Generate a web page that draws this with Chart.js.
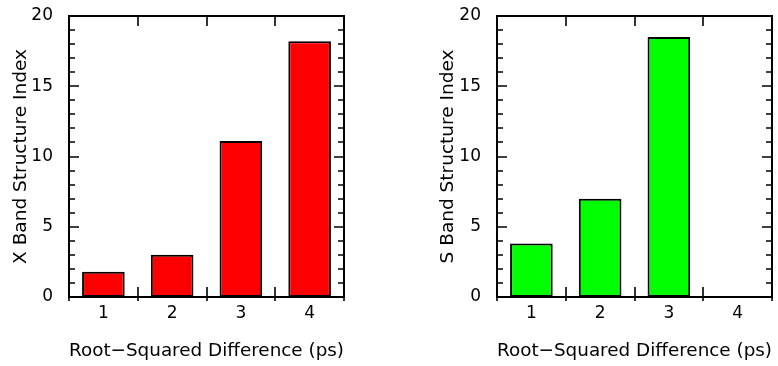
<!DOCTYPE html>
<html>
<head>
<meta charset="utf-8">
<script src="https://cdn.jsdelivr.net/npm/chart.js@4/dist/chart.umd.min.js"></script>
<style>
  html, body { margin: 0; padding: 0; background: #fff; }
  #wrap { position: relative; width: 778px; height: 366px; overflow: hidden; }
  canvas { position: absolute; top: 0; }
  #c1 { left: 0; }
  #c2 { left: 389px; }
</style>
</head>
<body>
<div id="wrap">
  <canvas id="c1" width="389" height="366"></canvas>
  <canvas id="c2" width="389" height="366"></canvas>
</div>
<script>
// ---- data ----
const categories = ["1", "2", "3", "4"];
const xBandValues = [1.8, 3.0, 11.1, 18.2];
const sBandValues = [3.8, 7.0, 18.5, 0];
const yTickMin = 0;
const yTickMax = 20;
const yMajorStep = 5;
const yMinorStep = 1;
const xTitle = "Root\u2212Squared Difference (ps)";
const xBandTitle = "X Band Structure Index";
const sBandTitle = "S Band Structure Index";

const FAMILY = "'DejaVu Sans', Verdana, sans-serif";
const TICK_FONT = { family: FAMILY, size: 17 };
const TITLE_FONT = { family: FAMILY, size: 18.5 };
Chart.defaults.color = '#000';
Chart.defaults.font.family = FAMILY;

const framePlugin = {
  id: 'frame',
  afterDatasetsDraw(chart) {
    const { ctx, chartArea: a, scales: { x, y } } = chart;
    ctx.save();
    ctx.strokeStyle = '#000';
    ctx.lineWidth = 2;
    ctx.strokeRect(a.left, a.top, a.right - a.left, a.bottom - a.top);
    ctx.lineWidth = 1.6;
    ctx.beginPath();
    for (let v = yTickMin; v <= yTickMax; v += yMinorStep) {
      const py = Math.round(y.getPixelForValue(v));
      const len = (v % yMajorStep === 0) ? 10 : 6;
      ctx.moveTo(a.left, py); ctx.lineTo(a.left + len, py);
      ctx.moveTo(a.right, py); ctx.lineTo(a.right - len, py);
    }
    for (let i = 0; i <= categories.length; i++) {
      const px = Math.round(x.getPixelForValue(i - 0.5));
      ctx.moveTo(px, a.bottom + 4); ctx.lineTo(px, a.bottom - 10);
      ctx.moveTo(px, a.top); ctx.lineTo(px, a.top + 10);
    }
    ctx.stroke();
    ctx.restore();
  }
};

function makeChart(id, values, color, yTitle, padLeft, yWidth, padRight) {
  return new Chart(document.getElementById(id), {
    type: 'bar',
    data: {
      labels: categories,
      datasets: [{
        data: values,
        backgroundColor: color,
        borderColor: '#000',
        borderWidth: 2,
        borderSkipped: false,
        barPercentage: 0.62,
        categoryPercentage: 1.0
      }]
    },
    options: {
      responsive: false,
      animation: false,
      devicePixelRatio: 1,
      layout: { padding: { left: padLeft, right: padRight, top: 16, bottom: 0 } },
      plugins: { legend: { display: false }, tooltip: { enabled: false } },
      scales: {
        x: {
          type: 'category',
          offset: true,
          grid: { display: false, drawTicks: false },
          border: { display: false },
          ticks: { padding: 6, color: '#000', font: TICK_FONT },
          title: { display: true, text: xTitle, color: '#000', font: TITLE_FONT, padding: { top: 0, bottom: 4 } },
          afterFit(s) { s.height = 69; s.paddingLeft = 0; s.paddingRight = 0; }
        },
        y: {
          min: yTickMin,
          max: yTickMax,
          grid: { display: false, drawTicks: false },
          border: { display: false },
          ticks: { stepSize: yMajorStep, padding: 16, color: '#000', font: TICK_FONT },
          title: { display: true, text: yTitle, color: '#000', font: TITLE_FONT, padding: { top: 10.4, bottom: 0 } },
          afterFit(s) { s.width = yWidth; s.paddingTop = 0; s.paddingBottom = 0; }
        }
      }
    },
    plugins: [framePlugin]
  });
}

makeChart('c1', xBandValues, '#ff0000', xBandTitle, 0, 69, 45);
makeChart('c2', sBandValues, '#00ff00', sBandTitle, 38, 70, 6);
</script>
</body>
</html>
